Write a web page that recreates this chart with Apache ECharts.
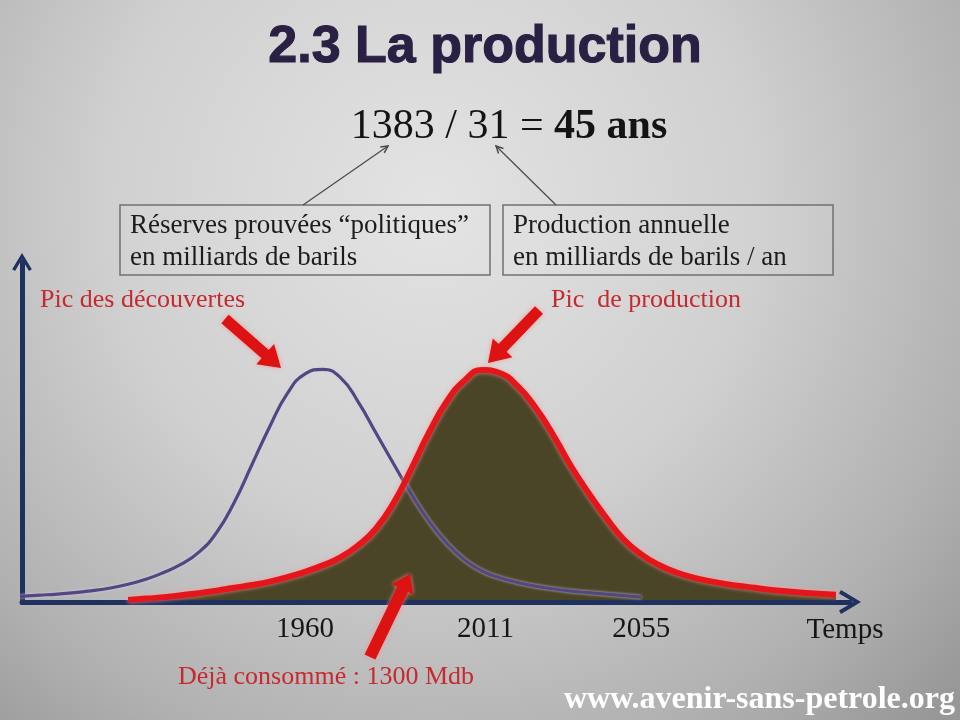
<!DOCTYPE html>
<html>
<head>
<meta charset="utf-8">
<script src="https://cdn.jsdelivr.net/npm/echarts@6/dist/echarts.min.js"></script>
<style>html,body{margin:0;padding:0;background:#d0d0d0;}#c{width:960px;height:720px;}</style>
</head>
<body>
<div id="c"></div>
<script>
// ---- data ----
const prodYears = [1910,1915,1920,1925,1930,1935,1940,1945,1950,1955,1960,1965,1970,1975,1980,1985,1990,1995,2000,2005,2010,2015,2020,2025,2030,2035,2040,2045,2050,2055,2060,2065,2070,2075,2080,2085,2090,2095,2100,2105,2110];
const production = [0.28,0.45,0.62,0.9,1.17,1.5,1.88,2.25,2.7,3.3,4.0,4.85,5.9,7.5,9.7,13.1,17.6,22.4,26.5,29.3,30.7,30.3,28.6,25.8,22.2,18.1,14.5,11.2,8.3,6.3,4.9,3.9,3.2,2.7,2.3,2.0,1.7,1.45,1.25,1.1,0.95];
const discYears = [1875,1880,1885,1890,1895,1900,1905,1910,1915,1920,1925,1930,1935,1940,1945,1950,1955,1960,1965,1970,1975,1980,1985,1990,1995,2000,2005,2010,2015,2020,2025,2030,2035,2040,2045,2050,2055];
const discovery = [0.55,0.75,0.9,1.05,1.25,1.5,1.85,2.35,3.0,3.9,5.0,6.6,9.2,13.2,18.2,23.2,27.6,30.2,30.8,29.7,26.5,22.4,18.3,14.3,10.7,7.8,5.6,4.1,3.2,2.6,2.1,1.75,1.45,1.25,1.05,0.85,0.65];
const tickYears = [1960, 2011, 2055];
const axisName = 'Temps';
const titleText = '2.3 La production';
const formulaLeft = '1383 / 31 = ';
const formulaRight = '45 ans';
const boxLeft = ['Réserves prouvées “politiques”', 'en milliards de barils'];
const boxRight = ['Production annuelle', 'en milliards de barils / an'];
const labelDisc = 'Pic des découvertes';
const labelProd = 'Pic  de production';
const labelUsed = 'Déjà consommé : 1300 Mdb';
const siteText = 'www.avenir-sans-petrole.org';

const prodData = prodYears.map((y, i) => [y, production[i]]);
const discData = discYears.map((y, i) => [y, discovery[i]]);

const chevron = 'path://M12,0 L24,20 L20.5,22 L12,7.5 L3.5,22 L0,20 Z';
const serif = 'Liberation Serif';

function arrowPoly(x1, y1, x2, y2, shaft, headW, headL) {
  const dx = x2 - x1, dy = y2 - y1, L = Math.hypot(dx, dy);
  const ux = dx / L, uy = dy / L, px = -uy, py = ux;
  const bx = x2 - ux * headL, by = y2 - uy * headL;
  return [
    [x1 + px * shaft / 2, y1 + py * shaft / 2],
    [bx + px * shaft / 2, by + py * shaft / 2],
    [bx + px * headW / 2, by + py * headW / 2],
    [x2, y2],
    [bx - px * headW / 2, by - py * headW / 2],
    [bx - px * shaft / 2, by - py * shaft / 2],
    [x1 - px * shaft / 2, y1 - py * shaft / 2]
  ];
}
function redArrow(x1, y1, x2, y2, shaft, headW, headL) {
  return {
    type: 'polygon', z: 20,
    shape: { points: arrowPoly(x1, y1, x2, y2, shaft, headW, headL) },
    style: { fill: '#dd1212', shadowColor: 'rgba(255,140,140,0.9)', shadowBlur: 4 }
  };
}
function thinArrow(x1, y1, x2, y2) {
  const dx = x2 - x1, dy = y2 - y1, L = Math.hypot(dx, dy);
  const ux = dx / L, uy = dy / L, px = -uy, py = ux, h = 7, w = 3.5;
  return [
    { type: 'line', z: 20, shape: { x1, y1, x2, y2 }, style: { stroke: '#4a4a4a', lineWidth: 1.2 } },
    { type: 'polyline', z: 20, shape: { points: [
      [x2 - ux * h + px * w, y2 - uy * h + py * w], [x2, y2], [x2 - ux * h - px * w, y2 - uy * h - py * w]
    ] }, style: { stroke: '#4a4a4a', lineWidth: 1.5, fill: null } }
  ];
}
function txt(text, x, y, font, fill, align, extra) {
  return Object.assign({
    type: 'text', z: 20, x, y,
    style: Object.assign({ text, font, fill, align: align || 'left', verticalAlign: 'middle' }, extra || {})
  });
}

const chart = echarts.init(document.getElementById('c'), null, { renderer: 'canvas' });
chart.setOption({
  animation: false,
  backgroundColor: {
    type: 'radial', x: 0.45, y: 0.28, r: 1.0,
    colorStops: [
      { offset: 0, color: '#e3e3e3' },
      { offset: 0.45, color: '#d0d0d0' },
      { offset: 0.8, color: '#b0b0b0' },
      { offset: 1, color: '#979797' }
    ]
  },
  grid: { left: 22, right: 110, top: 262, bottom: 118 },
  xAxis: {
    type: 'value', min: 1880, max: 2114, z: 3,
    axisLine: { show: true, onZero: false, lineStyle: { color: '#1f315f', width: 5 },
      symbol: ['none', chevron], symbolSize: [24, 23] },
    axisTick: { show: false },
    splitLine: { show: false },
    axisLabel: { customValues: tickYears, color: '#161616', fontFamily: serif, fontSize: 29, margin: 13,
      formatter: v => String(v) },
    name: axisName, nameLocation: 'end', nameGap: -5,
    nameTextStyle: { color: '#161616', fontFamily: serif, fontSize: 29, align: 'center', verticalAlign: 'top', padding: [14, 0, 0, 0] }
  },
  yAxis: {
    type: 'value', min: 0, max: 45, z: 3,
    axisLine: { show: true, lineStyle: { color: '#1f315f', width: 5 },
      symbol: ['none', chevron], symbolSize: [22, 18] },
    axisTick: { show: false }, axisLabel: { show: false }, splitLine: { show: false }
  },
  series: [
    { name: 'fill', type: 'line', data: prodData, smooth: true, symbol: 'none', z: 2,
      lineStyle: { width: 0 }, areaStyle: { color: '#4a4527', opacity: 1 } },
    { name: 'découvertes', type: 'line', data: discData, smooth: true, symbol: 'none', z: 4, clip: false,
      lineStyle: { color: '#52477f', width: 3.2, shadowColor: 'rgba(215,205,240,0.9)', shadowBlur: 3 } },
    { name: 'production', type: 'line', data: prodData, smooth: true, symbol: 'none', z: 5,
      lineStyle: { color: '#e4161c', width: 6, shadowColor: 'rgba(255,150,150,0.8)', shadowBlur: 4 } }
  ],
  graphic: [].concat(
    [
      txt(titleText, 485, 48, 'bold 52px "Liberation Sans"', '#2a2044', 'center', { stroke: '#2a2044', lineWidth: 1.1 }),
      { type: 'text', z: 20, x: 509, y: 127, style: {
        text: '{a|' + formulaLeft + '}{b|' + formulaRight + '}', align: 'center', verticalAlign: 'middle',
        rich: { a: { font: '42px "Liberation Serif"', fill: '#141414' }, b: { font: 'bold 42px "Liberation Serif"', fill: '#141414' } }
      } },
      { type: 'rect', z: 19, shape: { x: 120, y: 205, width: 370, height: 70 },
        style: { fill: 'rgba(255,255,255,0.06)', stroke: '#707070', lineWidth: 1.5 } },
      { type: 'rect', z: 19, shape: { x: 503, y: 205, width: 330, height: 70 },
        style: { fill: 'rgba(255,255,255,0.06)', stroke: '#707070', lineWidth: 1.5 } },
      txt(boxLeft[0], 130, 226, '27px "Liberation Serif"', '#1c1c1c'),
      txt(boxLeft[1], 130, 258, '27px "Liberation Serif"', '#1c1c1c'),
      txt(boxRight[0], 513, 226, '27px "Liberation Serif"', '#1c1c1c'),
      txt(boxRight[1], 513, 258, '27px "Liberation Serif"', '#1c1c1c'),
      txt(labelDisc, 40, 300, '26px "Liberation Serif"', '#c62a30'),
      txt(labelProd, 551, 300, '26px "Liberation Serif"', '#c62a30'),
      txt(labelUsed, 178, 677, '26px "Liberation Serif"', '#c62a30'),
      txt(siteText, 955, 700, 'bold 32px "Liberation Serif"', '#ffffff', 'right'),
      redArrow(225, 319, 281, 368, 11, 27, 21),
      redArrow(539, 310, 488, 363, 11, 27, 21),
      redArrow(370, 657, 410, 574, 12, 24, 17)
    ],
    thinArrow(303, 205, 388, 146),
    thinArrow(556, 205, 496, 146)
  )
});
</script>
</body>
</html>
